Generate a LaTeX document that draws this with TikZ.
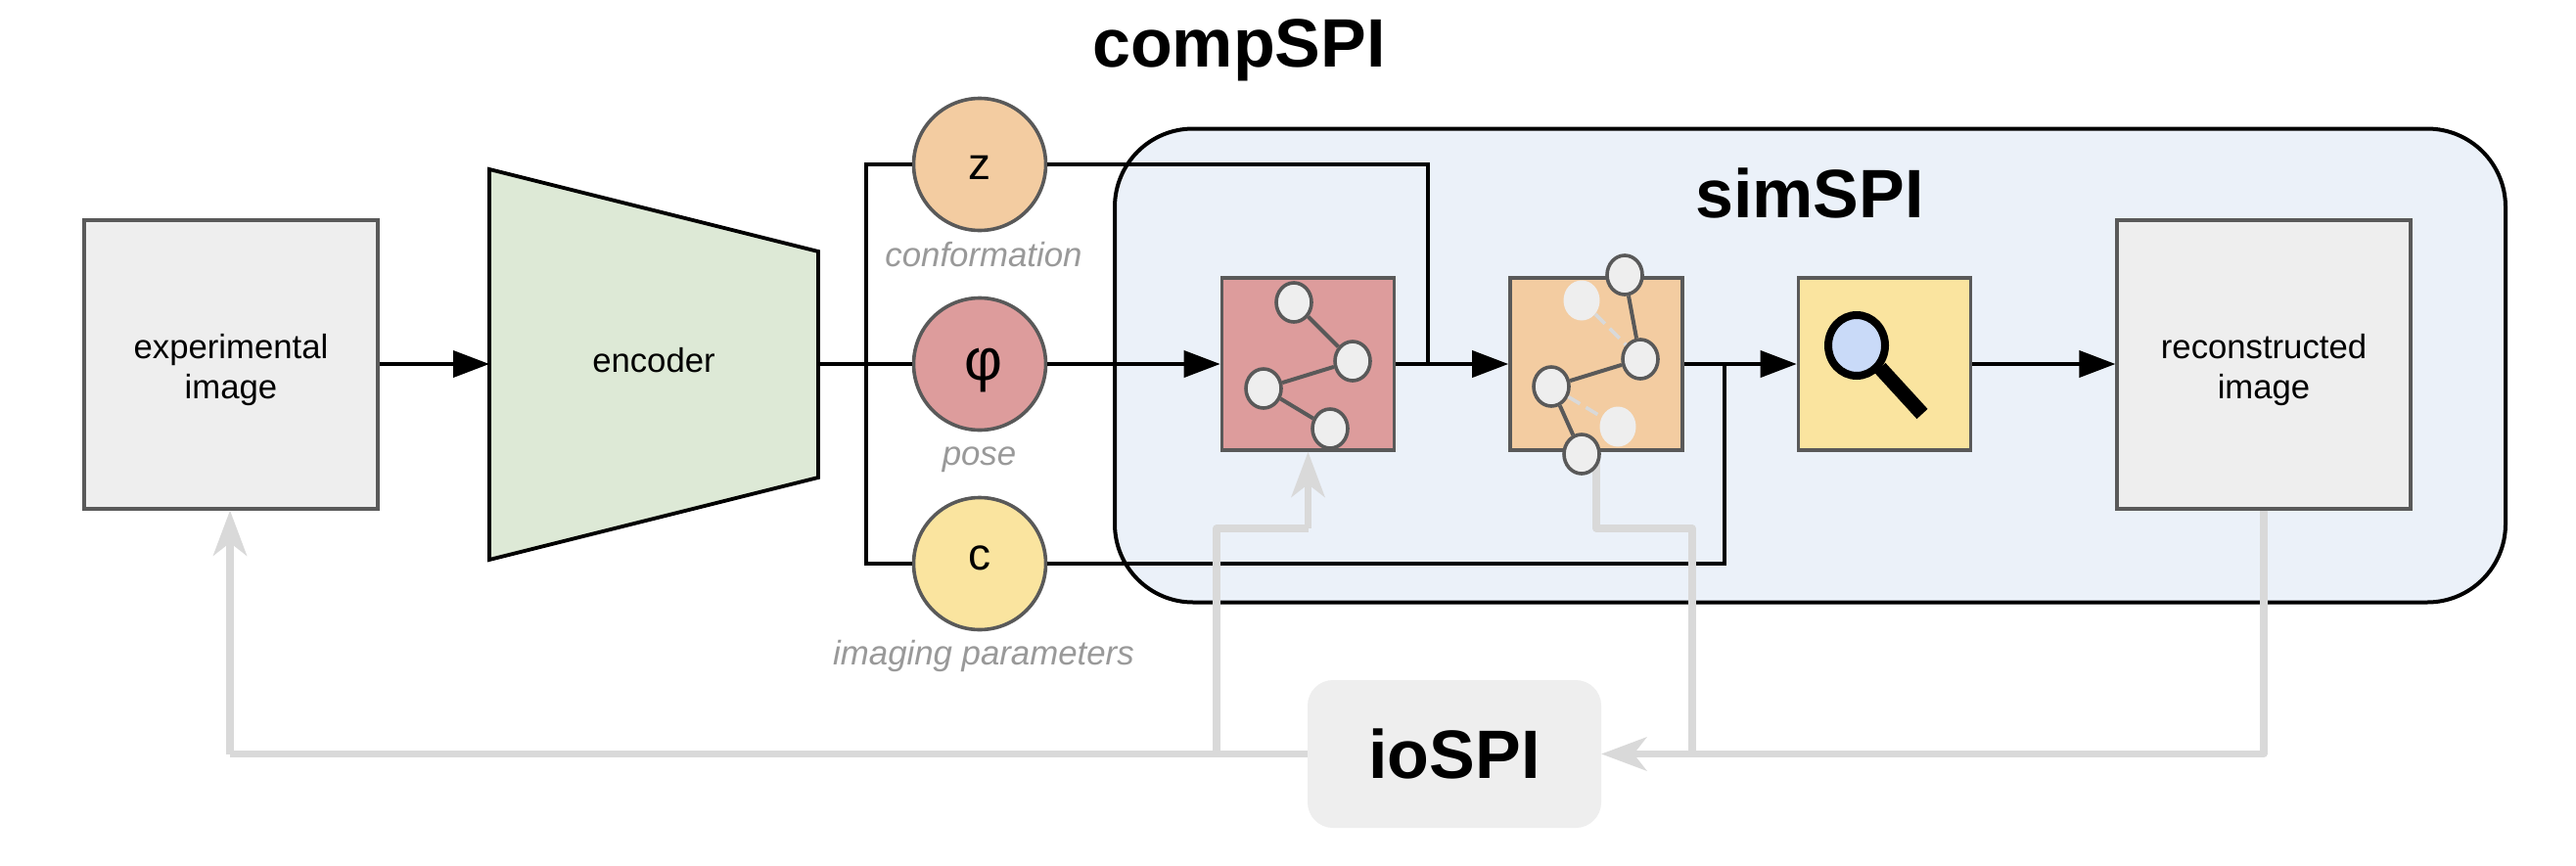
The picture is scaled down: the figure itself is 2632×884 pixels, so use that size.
\documentclass[tikz,border=0pt]{standalone}
\usepackage{fontspec}
\setmainfont{Liberation Sans}
\usetikzlibrary{arrows.meta,shapes.geometric}
\definecolor{blueF}{HTML}{EBF1F9}
\definecolor{pinkF}{HTML}{DD9C9C}
\definecolor{orangeF}{HTML}{F3CCA1}
\definecolor{yellowF}{HTML}{FAE49F}
\definecolor{greenF}{HTML}{DDE9D6}
\definecolor{grayF}{HTML}{EEEEEE}
\definecolor{grayL}{HTML}{D9D9D9}
\definecolor{edgeC}{HTML}{595959}
\definecolor{capC}{HTML}{999999}
\definecolor{lensF}{HTML}{C9DAF8}
\newcommand{\fs}[2][]{\fontsize{#2pt}{41pt}\selectfont}
\tikzset{
 x=1pt,y=-1pt,
 flow/.style={draw=black,line width=3.8pt,line join=miter},
 flowarrow/.style={flow,-{Triangle[length=37pt,width=27pt]}},
 back/.style={draw=grayL,line width=7.2pt,line join=round},
 backarrow/.style={back,-{Stealth[length=46pt,width=34pt,inset=13pt]}},
 bigbox/.style={draw=edgeC,line width=3.2pt,fill=grayF,minimum width=300pt,minimum height=295pt,inner sep=0},
 boxtext/.style={inner sep=0,align=center,font=\fs{34.7},text width=220pt},
 smallbox/.style={draw=edgeC,line width=3.6pt,minimum width=176pt,minimum height=176pt,inner sep=0},
 latent/.style={circle,draw=edgeC,line width=3.6pt,minimum size=135pt,inner sep=0},
 caption/.style={text=capC,font=\fs{34.8}\itshape,inner sep=0,anchor=base},
 glyph/.style={inner sep=0,font=\fs{46}},
 gnode/.style={ellipse,draw=edgeC,fill=grayF,line width=3.6pt,minimum width=36pt,minimum height=40pt,inner sep=0},
 ghost/.style={ellipse,fill=grayF,minimum width=37pt,minimum height=41pt,inner sep=0},
 glink/.style={draw=edgeC,line width=4pt},
 gdash/.style={draw=grayL,line width=3.6pt,dash pattern=on 14pt off 7pt},
 title/.style={font=\fs{70}\bfseries,inner sep=0,anchor=base},
}
\begin{document}
\begin{tikzpicture}
\useasboundingbox (0,0) rectangle (2632,884);
\fill[white] (0,0) rectangle (2632,884);
% simSPI frame
\node[draw=black,line width=4pt,fill=blueF,rounded corners=80pt,minimum width=1421pt,minimum height=484pt,inner sep=0] (sim) at (1849.5,373.5) {};
\node[title] (compT) at (1266,68) {compSPI};
\node[title] (simT) at (1849,222) {simSPI};
% left side
\node[bigbox] (exp) at (236,372.5) {};
\node[boxtext] (expT) at (236,378) {experimental\\image};
\node[bigbox] (rec) at (2313,372.5) {};
\node[boxtext] (recT) at (2313,378) {reconstructed\\image};
\coordinate (e1) at (500,173);
\coordinate (e2) at (836,257);
\coordinate (e3) at (836,488);
\coordinate (e4) at (500,572);
\coordinate (eR) at (836,372);
\coordinate (eL) at (500,372);
\draw[fill=greenF,draw=black,line width=3.8pt,line join=miter] (e1) -- (e2) -- (e3) -- (e4) -- cycle;
\node[font=\fs{34.7},inner sep=0] (enc) at (668,368) {encoder};
% boxes
\node[smallbox,fill=pinkF] (pb) at (1336.5,372) {};
\node[smallbox,fill=orangeF] (ob) at (1631,372) {};
\node[smallbox,fill=yellowF] (yb) at (1925.5,372) {};
% latents
\node[latent,fill=orangeF] (z) at (1001,168) {};
\node[latent,fill=pinkF] (phi) at (1001,372) {};
\node[latent,fill=yellowF] (c) at (1001,576) {};
\node[glyph] (zT) at (1001,171) {z};
\node[glyph,font=\fs{60}] (phiT) at (1005,379) {φ};
\node[glyph] (cT) at (1001,570) {c};
% junction coordinates
\coordinate (busT) at (885,168);
\coordinate (busB) at (885,576);
\coordinate (zJ) at (1459,168);
\coordinate (zD) at (1459,372);
\coordinate (cJ) at (1762,576);
\coordinate (cU) at (1762,372);
% flow connectors
\draw[flow] (eR) -- (phi.west);
\draw[flow] (z.west) -- (busT) -- (busB) -- (c.west);
\draw[flowarrow] (phi.east) -- (pb.west);
\draw[flow] (z.east) -- (zJ) -- (zD);
\draw[flowarrow] (pb.east) -- (ob.west);
\draw[flow] (c.east) -- (cJ) -- (cU);
\draw[flowarrow] (ob.east) -- (yb.west);
\draw[flowarrow] (yb.east) -- (rec.west |- yb.east);
\draw[flowarrow] (exp.east |- eL) -- (eL);
\node[caption] (capz) at (1005,272) {conformation};
\node[caption] (capp) at (1000.5,475) {pose};
\node[caption] (capc) at (1005,679) {imaging parameters};
% ioSPI
\node[fill=grayF,rounded corners=26pt,minimum width=300pt,minimum height=151pt,inner sep=0,font=\fs{70}\bfseries] (io) at (1486,770.5) {ioSPI};
\coordinate (lx) at (1243,770.5);
\coordinate (rx) at (1729,770.5);
\coordinate (pbB) at (1336.5,540);
\coordinate (lu) at (1243,540);
\coordinate (obB) at (1631,540);
\coordinate (ru) at (1729,540);
\coordinate (ol) at (235,770.5);
\coordinate (rr) at (2313,770.5);
% back connectors
\draw[back] (lx) -- (lu) -- (pbB);
\draw[backarrow] (pbB) -- (pb.south);
\draw[back] (ob.south -| obB) -- (obB) -- (ru) -- (rx);
\draw[back] (io.west) -- (ol);
\draw[backarrow] (ol) -- (exp.south -| ol);
\draw[back] (rec.south -| rr) -- (rr) -- (rx);
\draw[backarrow] (rx) -- (io.east);
% pink graph
\node[gnode] (a1) at (1322,309) {};
\node[gnode] (a2) at (1382,369) {};
\node[gnode] (a3) at (1291,397) {};
\node[gnode] (a4) at (1359,438) {};
\draw[glink] (a1) -- (a2) (a2) -- (a3) (a3) -- (a4);
% orange graph
\node[ghost] (b1) at (1616,307) {};
\node[ghost] (b2) at (1653,436) {};
\node[gnode] (b3) at (1660,281) {};
\node[gnode] (b4) at (1676,367) {};
\node[gnode] (b5) at (1585,395) {};
\node[gnode] (b6) at (1616,464) {};
\draw[gdash] (b1) -- (b4);
\draw[gdash] (b5) -- (b2);
\draw[glink] (b3) -- (b4) (b4) -- (b5) (b5) -- (b6);
% magnifier
\coordinate (h1) at (1921,376);
\coordinate (h2) at (1964,423);
\draw[black,line width=15pt] (h1) -- (h2);
\node[ellipse,draw=black,fill=lensF,line width=8pt,minimum width=58pt,minimum height=62pt,inner sep=0] (lens) at (1897,353) {};
\end{tikzpicture}
\end{document}
